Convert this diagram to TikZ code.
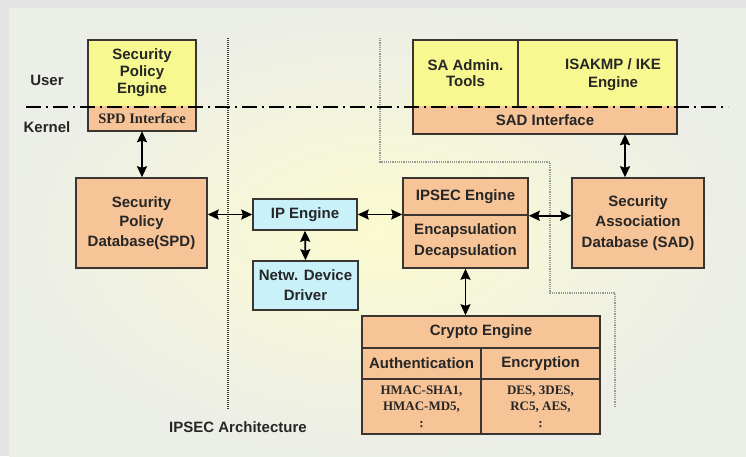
\documentclass[tikz,border=0pt]{standalone}
\usepackage{fontspec}
\setmainfont{Liberation Sans}
\newfontfamily\serifbold{Liberation Serif}
\usetikzlibrary{arrows.meta,calc}

\definecolor{panelY}{HTML}{FBFBD0}
\definecolor{panelG}{HTML}{ECEEE8}
\definecolor{frameG}{HTML}{E3E3E3}
\definecolor{userY}{HTML}{F8F890}
\definecolor{kernO}{HTML}{F6C497}
\definecolor{netB}{HTML}{C9F1FA}
\definecolor{edgeD}{HTML}{3A3530}
\definecolor{dotG}{HTML}{9A9A94}

\newcommand{\fsz}[2]{\fontsize{#1}{#2}\selectfont}

\begin{document}
\begin{tikzpicture}[x=1pt,y=-1pt,
  every node/.style={font=\bfseries\fsz{15}{19.5}, text=black!85,
                     inner sep=0pt, align=center},
  cell/.style={fill=#1, draw=edgeD, line width=1.5pt},
  dar/.style={line width=1.7pt, {Stealth[length=11pt,width=10pt,inset=1.5pt]}-{Stealth[length=11pt,width=10pt,inset=1.5pt]}},
  layerline/.style={line width=1.8pt, dash pattern=on 15pt off 5pt on 2pt off 5pt},
  sepdots/.style={line width=1.2pt, black!75, dash pattern=on 1pt off 1pt},
  zonedots/.style={line width=2.4pt, dotG, dash pattern=on 1.2pt off 1pt}]

\useasboundingbox (0,0) rectangle (746,456);

% frame and shaded panel
\fill[frameG] (0,0) rectangle (746,456);
\shade[inner color=panelY, outer color=panelG] (9,8) rectangle (746,456);

% separators
\draw[sepdots] (228,38) -- (228,410);
\draw[zonedots] (380,38) -- (380,162) -- (550,162) -- (550,293) -- (615,293) -- (615,408);

% user / kernel labels
\node (user) at (47,80) {User};
\node (kernel) at (47,127) {Kernel};

% Security policy engine with SPD interface
\node[fill=userY, minimum width=108, minimum height=66, font=\bfseries\fsz{15}{17}] (spe) at (142,73) {Security\\Policy\\Engine};
\node[fill=kernO, minimum width=108, minimum height=25, font=\bfseries\serifbold\fsz{14.5}{17}] (spdi) at (142,118.5) {SPD Interface};
\draw[edgeD, line width=1.5pt] (spe.north west) rectangle (spdi.south east);

% SA admin tools, ISAKMP / IKE engine and SAD interface
\node[fill=userY, minimum width=105, minimum height=66, font=\bfseries\fsz{15}{16.5}] (saat) at (465.5,73) {SA Admin.\\Tools};
\node[fill=userY, minimum width=159, minimum height=66] (ike) at (597.5,73) {};
\node[font=\bfseries\fsz{15}{18}] (iketext) at (613,75) {ISAKMP / IKE\\Engine};
\node[fill=kernO, minimum width=264, minimum height=28] (sadi) at (545,120) {SAD Interface};
\draw[edgeD, line width=1.5pt] (saat.north west) rectangle (sadi.south east);
\draw[edgeD, line width=1.5pt] (saat.north east) -- (saat.south east);

% kernel components
\node[cell=kernO, minimum width=131, minimum height=90] (spd) at (141.5,223) {Security\\Policy\\Database(SPD)};
\node[cell=netB, minimum width=104, minimum height=31] (ip) at (305,214.5) {IP Engine};
\node[cell=netB, minimum width=105, minimum height=49, font=\bfseries\fsz{15}{20}] (ndd) at (305.5,285.5) {Netw. Device\\Driver};
\node[cell=kernO, minimum width=125, minimum height=37] (ipe) at (465.5,196.5) {IPSEC Engine};
\node[cell=kernO, minimum width=125, minimum height=53, font=\bfseries\fsz{15}{21}] (encap) at (465.5,241.5) {Encapsulation\\Decapsulation};
\node[cell=kernO, minimum width=132, minimum height=90, font=\bfseries\fsz{15}{20.5}] (sad) at (638,223) {Security\\Association\\Database (SAD)};

% crypto engine table
\node[cell=kernO, minimum width=238, minimum height=32] (crypto) at (481,332) {Crypto Engine};
\node[cell=kernO, minimum width=119, minimum height=31] (auth) at (421.5,363.5) {Authentication};
\node[cell=kernO, minimum width=119, minimum height=31] (encr) at (540.5,363.5) {Encryption};
\node[cell=kernO, minimum width=119, minimum height=55, font=\bfseries\serifbold\fsz{13}{16.5}] (hmac) at (421.5,406.5) {HMAC-SHA1,\\HMAC-MD5,\\:};
\node[cell=kernO, minimum width=119, minimum height=55, font=\bfseries\serifbold\fsz{13}{16.5}] (algs) at (540.5,406.5) {DES, 3DES,\\RC5, AES,\\:};

% user / kernel boundary
\draw[layerline] (26,107) -- (728,107);

% connectors
\coordinate (sadTop) at ($(sad.north)+(-13,0)$);
\draw[dar] (spdi.south) -- (spdi.south |- spd.north);
\draw[dar] (sadi.south -| sadTop) -- (sadTop);
\draw[dar] (spd.east |- ip.west) -- (ip.west);
\draw[dar] (ip.east) -- (ipe.west |- ip.east);
\draw[dar] (ip.south) -- (ndd.north);
\draw[dar] (ipe.south east) -- (sad.west |- ipe.south east);
\draw[dar] (encap.south) -- (encap.south |- crypto.north);

% caption
\node (caption) at (238,427) {IPSEC Architecture};
\end{tikzpicture}
\end{document}
